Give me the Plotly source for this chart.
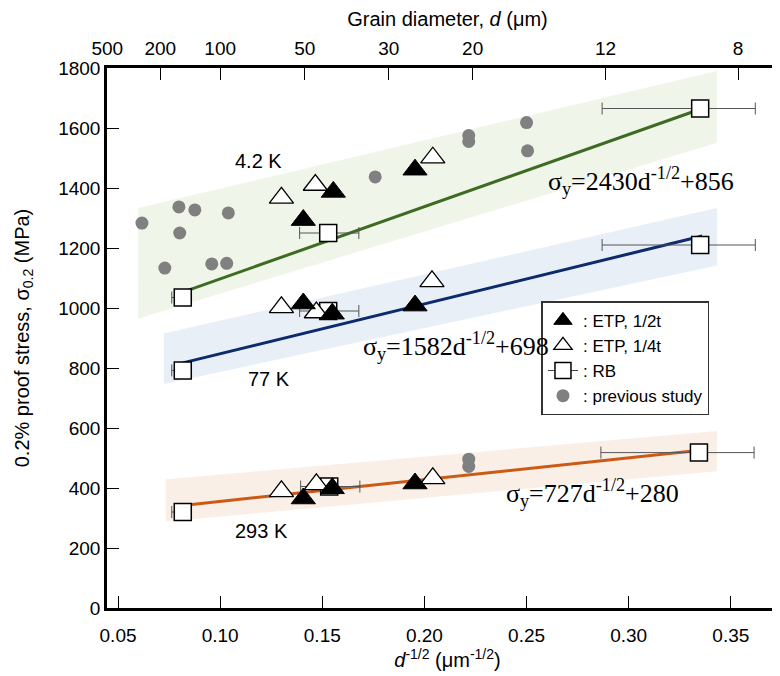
import plotly.graph_objects as go

# ---------------- data ----------------
# RB (squares with error bars)
rb_x = [0.0817, 0.1529, 0.3350, 0.0817, 0.1529, 0.3350, 0.0817, 0.1534, 0.3344]
rb_y = [1035, 1250, 1665, 792, 990, 1210, 320, 405, 518]
rb_err_minus = [0.0054, 0.014, 0.048, 0.0054, 0.014, 0.048, 0.0054, 0.014, 0.048]
rb_err_plus = [0.003, 0.015, 0.027, 0.003, 0.015, 0.027, 0.003, 0.015, 0.027]

# ETP 1/2t (filled triangles)
etp_half_x = [0.1407, 0.1554, 0.1954, 0.1407, 0.1549, 0.1954, 0.1407, 0.1549, 0.1954]
etp_half_y = [1293, 1387, 1461, 1015, 981, 1008, 365, 399, 415]

# ETP 1/4t (open triangles)
etp_quarter_x = [0.130, 0.1466, 0.2041, 0.130, 0.1471, 0.2037, 0.130, 0.1471, 0.2041]
etp_quarter_y = [1367, 1410, 1501, 1002, 985, 1089, 389, 412, 432]

# previous study (grey circles)
prev_x = [0.0617, 0.0798, 0.0876, 0.1040, 0.0802, 0.0729, 0.0959, 0.1032, 0.1759,
          0.2217, 0.2217, 0.2500, 0.2505, 0.2217, 0.2217]
prev_y = [1283, 1337, 1327, 1317, 1250, 1133, 1147, 1149, 1437,
          1555, 1575, 1618, 1524, 496, 472]

# Hall-Petch fit lines (end points)
line_x = [0.0817, 0.3360]
line_42K_y = [1053, 1665]
line_77K_y = [817, 1240]
line_293K_y = [342, 527]

# scatter bands (polygon corners)
band_x = [0.0598, 0.3432, 0.3432, 0.0598]
band_42K_y = [1333, 1790, 1551, 965]
band_77K_x = [0.0724, 0.3432, 0.3432, 0.0724]
band_77K_y = [915, 1333, 1142, 747]
band_293K_x = [0.0734, 0.3432, 0.3432, 0.0734]
band_293K_y = [429, 590, 456, 288]

# axis ticks
x_ticks = [0.05, 0.10, 0.15, 0.20, 0.25, 0.30, 0.35]
x_ticklabels = ["0.05", "0.10", "0.15", "0.20", "0.25", "0.30", "0.35"]
d_ticks = [500, 200, 100, 50, 30, 20, 12, 8]
y_ticks = [0, 200, 400, 600, 800, 1000, 1200, 1400, 1600, 1800]

# annotations
eq_texts = ["σ<sub>y</sub>=2430d<sup>-1/2</sup>+856",
            "σ<sub>y</sub>=1582d<sup>-1/2</sup>+698",
            "σ<sub>y</sub>=727d<sup>-1/2</sup>+280"]
eq_x = [0.306, 0.2154, 0.2822]
eq_y = [1422, 873, 383]
temp_texts = ["4.2 K", "77 K", "293 K"]
temp_x = [0.1188, 0.1241, 0.1202]
temp_y = [1490, 763, 257]

# ---------------- figure ----------------
SANS = "Liberation Sans, Arial, sans-serif"
SERIF = "Liberation Serif, Times New Roman, serif"

fig = go.Figure()

bands = [
    (band_x, band_42K_y, "rgba(228,238,216,0.6)"),
    (band_77K_x, band_77K_y, "rgba(220,231,242,0.65)"),
    (band_293K_x, band_293K_y, "rgba(246,229,214,0.6)"),
]
for bx, by, col in bands:
    fig.add_trace(go.Scatter(x=bx + [bx[0]], y=by + [by[0]], mode="lines",
                             fill="toself", fillcolor=col, line=dict(width=0),
                             showlegend=False, hoverinfo="skip"))

for ly, col in [(line_42K_y, "#3d6b22"), (line_77K_y, "#0d2a6e"), (line_293K_y, "#cc5a17")]:
    fig.add_trace(go.Scatter(x=line_x, y=ly, mode="lines",
                             line=dict(color=col, width=3), showlegend=False))

fig.add_trace(go.Scatter(
    x=rb_x, y=rb_y, mode="markers", showlegend=False,
    marker=dict(symbol="square", size=17, color="white", line=dict(color="black", width=1.5)),
    error_x=dict(type="data", symmetric=False, array=rb_err_plus, arrayminus=rb_err_minus,
                 color="#555555", thickness=1, width=6)))

fig.add_trace(go.Scatter(
    x=prev_x, y=prev_y, mode="markers", name=": previous study", legendrank=4,
    marker=dict(symbol="circle", size=13, color="#808080")))

fig.add_trace(go.Scatter(
    x=etp_quarter_x, y=etp_quarter_y, mode="markers", name=": ETP, 1/4t", legendrank=2,
    marker=dict(symbol="triangle-up", size=21, color="white", line=dict(color="black", width=1.3))))

fig.add_trace(go.Scatter(
    x=etp_half_x, y=etp_half_y, mode="markers", name=": ETP, 1/2t", legendrank=1,
    marker=dict(symbol="triangle-up", size=21, color="black", line=dict(color="black", width=1))))

# legend entry for RB (square with whisker)
fig.add_trace(go.Scatter(
    x=[None], y=[None], mode="lines+markers", name=": RB", legendrank=3,
    line=dict(color="#444444", width=1),
    marker=dict(symbol="square", size=16, color="white", line=dict(color="black", width=1.5))))

# dummy trace for top axis
fig.add_trace(go.Scatter(x=[None], y=[None], xaxis="x2", showlegend=False))

for t, x, y in zip(eq_texts, eq_x, eq_y):
    fig.add_annotation(x=x, y=y, text=t, showarrow=False,
                       font=dict(family=SERIF, size=26, color="black"))
for t, x, y in zip(temp_texts, temp_x, temp_y):
    fig.add_annotation(x=x, y=y, text=t, showarrow=False,
                       font=dict(family=SANS, size=20, color="black"))

xr = [0.0446, 0.378]
axis_common = dict(showline=True, linewidth=2.5, linecolor="black", ticks="inside",
                   ticklen=12, tickwidth=1.3, tickcolor="black", showgrid=False,
                   zeroline=False, automargin=False,
                   tickfont=dict(family=SANS, size=19, color="black"))

fig.update_layout(
    width=780, height=676,
    margin=dict(l=99, r=0, t=60, b=76),
    plot_bgcolor="white", paper_bgcolor="white",
    font=dict(family=SANS, color="black"),
    xaxis=dict(range=xr, tickvals=x_ticks, ticktext=x_ticklabels, ticklabelstandoff=8,
               title=dict(text="<i>d</i><sup>-1/2</sup> (μm<sup>-1/2</sup>)",
                          font=dict(family=SANS, size=20, color="black"), standoff=8),
               **axis_common),
    xaxis2=dict(range=xr, overlaying="x", side="top", ticklabelstandoff=3,
                tickvals=[d ** -0.5 for d in d_ticks], ticktext=[str(d) for d in d_ticks],
                title=dict(text="Grain diameter, <i>d</i> (μm)",
                           font=dict(family=SANS, size=20, color="black"), standoff=11),
                **axis_common),
    yaxis=dict(range=[0, 1800], tickvals=y_ticks,
               title=dict(text="0.2% proof stress, σ<sub>0.2</sub> (MPa)",
                          font=dict(family=SANS, size=20, color="black"), standoff=24),
               **axis_common),
    legend=dict(x=0.638, y=0.568, xanchor="left", yanchor="top",
                bgcolor="white", bordercolor="#333333", borderwidth=1.5,
                font=dict(family=SANS, size=17, color="black"),
                itemwidth=30, tracegroupgap=0),
)

fig.write_html("out.html")
